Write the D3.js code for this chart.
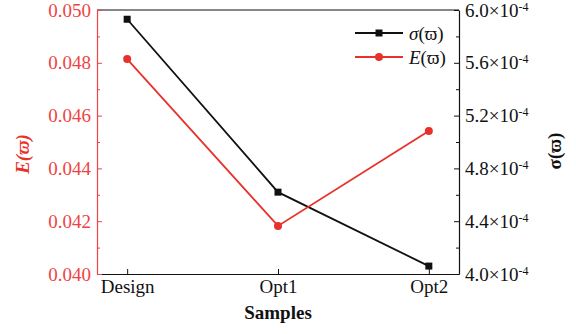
<!DOCTYPE html>
<html><head><meta charset="utf-8">
<script src="https://cdn.jsdelivr.net/npm/d3@7"></script>
<style>body{margin:0;background:#fff}svg{display:block}text{font-family:"Liberation Serif","Times New Roman",serif}</style>
</head><body>
<svg id="c" width="576" height="334"></svg>
<script>
const samples = ["Design", "Opt1", "Opt2"];
const sigmaValues = [5.93e-4, 4.62e-4, 4.06e-4];
const eValues = [0.04814, 0.04182, 0.04542];
const leftTicks = [0.040, 0.042, 0.044, 0.046, 0.048, 0.050];
const leftMinor = [0.041, 0.043, 0.045, 0.047, 0.049];
const rightTicks = [4.0e-4, 4.4e-4, 4.8e-4, 5.2e-4, 5.6e-4, 6.0e-4];
const rightMinor = [4.2e-4, 4.6e-4, 5.0e-4, 5.4e-4, 5.8e-4];

const RED = "#e8312b", LRED = "#ee4444", BLACK = "#111";
const L = 97, R = 459, T = 10, B = 274;
const svg = d3.select("#c");
const x = d3.scaleLinear().domain([-0.2, 2.2]).range([L, R]);
const yE = d3.scaleLinear().domain([0.040, 0.050]).range([B, T]);
const yS = d3.scaleLinear().domain([4.0e-4, 6.0e-4]).range([B, T]);
const FS = 19;

// top border
svg.append("line").attr("x1", L).attr("x2", R).attr("y1", T).attr("y2", T).attr("stroke", BLACK).attr("stroke-width", 1.2);

// bottom axis
const gx = svg.append("g").attr("transform", `translate(0,${B})`)
  .call(d3.axisBottom(x).tickValues([0, 1, 2]).tickFormat(i => samples[i]).tickSizeInner(-5).tickSizeOuter(0).tickPadding(6));
gx.select(".domain").attr("stroke", BLACK).attr("stroke-width", 1.2);
gx.selectAll(".tick line").attr("stroke", BLACK);
gx.selectAll("text").attr("font-size", FS).attr("fill", BLACK).attr("font-family", "Liberation Serif");

// left axis
const gl = svg.append("g").attr("transform", `translate(${L},0)`)
  .call(d3.axisLeft(yE).tickValues(leftTicks).tickFormat(d3.format(".3f")).tickSizeInner(-5).tickSizeOuter(0).tickPadding(6));
gl.select(".domain").attr("stroke", LRED).attr("stroke-width", 1.2);
gl.selectAll(".tick line").attr("stroke", LRED);
gl.selectAll("text").attr("font-size", FS).attr("fill", LRED).attr("font-family", "Liberation Serif");
const glm = svg.append("g").attr("transform", `translate(${L},0)`)
  .call(d3.axisLeft(yE).tickValues(leftMinor).tickFormat("").tickSizeInner(-3).tickSizeOuter(0));
glm.select(".domain").remove();
glm.selectAll(".tick line").attr("stroke", LRED);

// right axis
const gr = svg.append("g").attr("transform", `translate(${R},0)`)
  .call(d3.axisRight(yS).tickValues(rightTicks).tickFormat("").tickSizeInner(-5).tickSizeOuter(0).tickPadding(6));
gr.select(".domain").attr("stroke", BLACK).attr("stroke-width", 1.2);
gr.selectAll(".tick line").attr("stroke", BLACK);
gr.selectAll(".tick text").each(function(d) {
  const t = d3.select(this).attr("font-size", FS).attr("fill", BLACK).attr("font-family", "Liberation Serif");
  t.text(null);
  t.append("tspan").text((d * 1e4).toFixed(1) + "×10");
  t.append("tspan").attr("font-size", 12).attr("dy", "-0.5em").text("-4");
});
const grm = svg.append("g").attr("transform", `translate(${R},0)`)
  .call(d3.axisRight(yS).tickValues(rightMinor).tickFormat("").tickSizeInner(-3).tickSizeOuter(0));
grm.select(".domain").remove();
grm.selectAll(".tick line").attr("stroke", BLACK);

// lines
const lineS = d3.line().x((d, i) => x(i)).y(d => yS(d));
const lineE = d3.line().x((d, i) => x(i)).y(d => yE(d));
svg.append("path").datum(sigmaValues).attr("d", lineS).attr("fill", "none").attr("stroke", BLACK).attr("stroke-width", 1.8);
svg.append("path").datum(eValues).attr("d", lineE).attr("fill", "none").attr("stroke", RED).attr("stroke-width", 1.8);
svg.selectAll(".ms").data(sigmaValues).enter().append("rect")
  .attr("x", (d, i) => x(i) - 3.5).attr("y", d => yS(d) - 3.5).attr("width", 7).attr("height", 7).attr("fill", BLACK);
svg.selectAll(".me").data(eValues).enter().append("circle")
  .attr("cx", (d, i) => x(i)).attr("cy", d => yE(d)).attr("r", 4).attr("fill", RED);

// legend
const lg = svg.append("g");
lg.append("line").attr("x1", 355).attr("x2", 403).attr("y1", 33).attr("y2", 33).attr("stroke", BLACK).attr("stroke-width", 1.8);
lg.append("rect").attr("x", 375.5).attr("y", 29.5).attr("width", 7).attr("height", 7).attr("fill", BLACK);
const t1 = lg.append("text").attr("x", 409).attr("y", 40).attr("font-size", FS).attr("fill", BLACK);
t1.append("tspan").attr("font-style", "italic").text("σ");
t1.append("tspan").text("(ϖ)");
lg.append("line").attr("x1", 355).attr("x2", 403).attr("y1", 57).attr("y2", 57).attr("stroke", RED).attr("stroke-width", 1.8);
lg.append("circle").attr("cx", 379).attr("cy", 57).attr("r", 4).attr("fill", RED);
const t2 = lg.append("text").attr("x", 409).attr("y", 64).attr("font-size", FS).attr("fill", BLACK);
t2.append("tspan").attr("font-style", "italic").text("E");
t2.append("tspan").text("(ϖ)");

// axis titles
svg.append("text").attr("transform", "translate(29,154) rotate(-90)").attr("text-anchor", "middle")
  .attr("font-size", FS).attr("font-weight", "bold").attr("font-style", "italic").attr("fill", RED).text("E(ϖ)");
svg.append("text").attr("transform", "translate(561,151) rotate(-90)").attr("text-anchor", "middle")
  .attr("font-size", FS).attr("font-weight", "bold").attr("fill", BLACK).text("σ(ϖ)");
svg.append("text").attr("x", 278).attr("y", 319).attr("text-anchor", "middle")
  .attr("font-size", FS).attr("font-weight", "bold").attr("fill", BLACK).text("Samples");
</script>
</body></html>
